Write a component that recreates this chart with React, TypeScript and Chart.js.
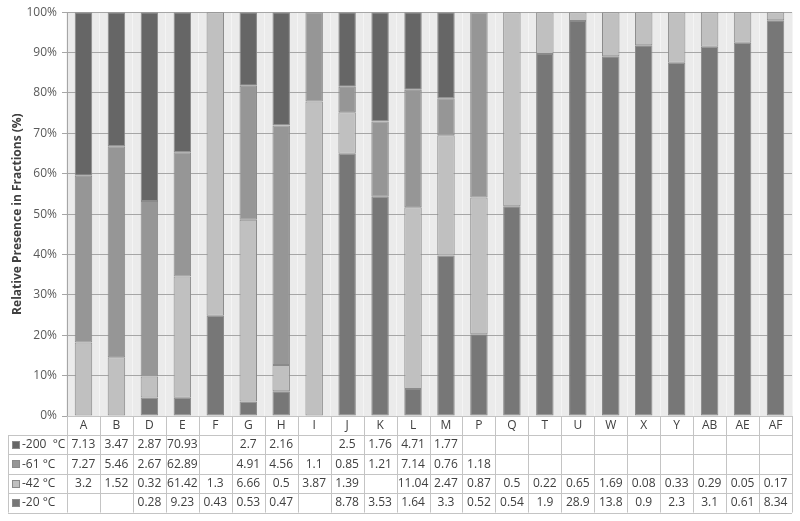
import React, { useEffect, useRef } from "react";
import { Chart, registerables } from "chart.js";

Chart.register(...registerables);

const categories = ["A", "B", "D", "E", "F", "G", "H", "I", "J", "K", "L", "M", "P", "Q", "T", "U", "W", "X", "Y", "AB", "AE", "AF"];

const seriesLabels = ["-200  °C", "-61 °C", "-42 °C", "-20 °C"];

const t200: (number | null)[] = [7.13, 3.47, 2.87, 70.93, null, 2.7, 2.16, null, 2.5, 1.76, 4.71, 1.77, null, null, null, null, null, null, null, null, null, null];
const t61: (number | null)[] = [7.27, 5.46, 2.67, 62.89, null, 4.91, 4.56, 1.1, 0.85, 1.21, 7.14, 0.76, 1.18, null, null, null, null, null, null, null, null, null];
const t42: (number | null)[] = [3.2, 1.52, 0.32, 61.42, 1.3, 6.66, 0.5, 3.87, 1.39, null, 11.04, 2.47, 0.87, 0.5, 0.22, 0.65, 1.69, 0.08, 0.33, 0.29, 0.05, 0.17];
const t20: (number | null)[] = [null, null, 0.28, 9.23, 0.43, 0.53, 0.47, null, 8.78, 3.53, 1.64, 3.3, 0.52, 0.54, 1.9, 28.9, 13.8, 0.9, 2.3, 3.1, 0.61, 8.34];

const yTicks = [0, 10, 20, 30, 40, 50, 60, 70, 80, 90, 100];

const colors = ["#666666", "#969696", "#c0c0c0", "#777777"];

const FONT = "'Open Sans', 'Liberation Sans', sans-serif";

export default function App() {
  const ref = useRef<HTMLCanvasElement>(null);

  useEffect(() => {
    document.body.style.margin = "0";
    const rows = [t200, t61, t42, t20];
    const totals = categories.map((_, i) => rows.reduce((s, r) => s + (r[i] ?? 0), 0));
    const pct = (r: (number | null)[]) => r.map((v, i) => (v === null ? null : (v / totals[i]) * 100));

    // stacking order bottom -> top: -20, -42, -61, -200
    const order = [3, 2, 1, 0];
    const datasets = order.map((k) => ({
      label: seriesLabels[k],
      data: pct(rows[k]),
      backgroundColor: colors[k],
      borderColor: "#8a8a8a",
      borderWidth: 1,
      borderSkipped: false as const,
      barPercentage: 0.53,
      categoryPercentage: 1,
    }));

    const tablePlugin = {
      id: "tablePlugin",
      beforeDraw(chart: any) {
        const { ctx, chartArea } = chart;
        ctx.save();
        ctx.fillStyle = "#ebebeb";
        ctx.fillRect(chartArea.left, chartArea.top, chartArea.right - chartArea.left, chartArea.bottom - chartArea.top);
        ctx.restore();
      },
      afterDraw(chart: any) {
        const { ctx, chartArea } = chart;
        const xs = chart.scales.x;
        const n = categories.length;
        const step = (chartArea.right - chartArea.left) / n;
        const top = chartArea.bottom;
        const catH = 19;
        const rowH = 19.4;
        const tableTop = top + catH;
        const tableBottom = tableTop + rowH * 4;
        const tableLeft = 8;
        ctx.save();
        ctx.strokeStyle = "#c4c4c4";
        ctx.lineWidth = 1;
        const hline = (y: number, x0: number, x1: number) => {
          ctx.beginPath();
          ctx.moveTo(x0, Math.round(y) + 0.5);
          ctx.lineTo(x1, Math.round(y) + 0.5);
          ctx.stroke();
        };
        const vline = (x: number, y0: number, y1: number) => {
          ctx.beginPath();
          ctx.moveTo(Math.round(x) + 0.5, y0);
          ctx.lineTo(Math.round(x) + 0.5, y1);
          ctx.stroke();
        };
        hline(top, chartArea.left, chartArea.right);
        for (let r = 0; r <= 4; r++) hline(tableTop + r * rowH, tableLeft, chartArea.right);
        for (let i = 0; i <= n; i++) vline(chartArea.left + i * step, top, tableBottom);
        vline(tableLeft, tableTop, tableBottom);

        ctx.font = `12px ${FONT}`;
        ctx.textBaseline = "middle";
        for (let r = 0; r < 4; r++) {
          const cy = tableTop + r * rowH + rowH / 2;
          // legend key
          ctx.fillStyle = colors[r];
          ctx.fillRect(12, Math.round(cy) - 4, 8, 8);
          ctx.strokeStyle = "#8a8a8a";
          ctx.strokeRect(12.5, Math.round(cy) - 3.5, 7, 7);
          ctx.fillStyle = "#404040";
          ctx.textAlign = "left";
          ctx.fillText(seriesLabels[r], 22, cy);
          ctx.textAlign = "center";
          rows[r].forEach((v, i) => {
            if (v === null) return;
            const cx = xs.getPixelForValue(i);
            ctx.fillText(String(v), cx, cy);
          });
        }
        ctx.restore();
      },
    };

    const chart = new Chart(ref.current!, {
      type: "bar",
      data: { labels: categories, datasets },
      plugins: [tablePlugin],
      options: {
        responsive: false,
        animation: false,
        layout: { padding: { top: 12, right: 8, left: 0, bottom: 0 } },
        plugins: { legend: { display: false }, tooltip: { enabled: false } },
        scales: {
          x: {
            stacked: true,
            grid: { color: "#f4f4f4", drawTicks: false, offset: true },
            border: { display: false },
            ticks: { color: "#404040", font: { family: FONT, size: 12 }, padding: 2, maxRotation: 0, autoSkip: false },
            afterFit: (s: any) => { s.height = 105; },
          },
          y: {
            stacked: true,
            min: 0,
            max: 100,
            afterBuildTicks: (s: any) => { s.ticks = yTicks.map((v) => ({ value: v })); },
            grid: { color: "#a6a6a6", tickLength: 5, tickColor: "#a6a6a6" },
            border: { display: true, color: "#a6a6a6" },
            ticks: { color: "#595959", font: { family: FONT, size: 12 }, padding: 5, callback: (v: any) => `${v}%` },
            title: {
              display: true,
              text: "Relative Presence in Fractions (%)",
              color: "#404040",
              font: { family: FONT, size: 12, weight: "bold" },
              padding: { top: 10, bottom: 0 },
            },
            afterFit: (s: any) => { s.width = 67; },
          },
        },
      },
    });
    return () => chart.destroy();
  }, []);

  return <canvas ref={ref} width={800} height={521} style={{ display: "block" }} />;
}
